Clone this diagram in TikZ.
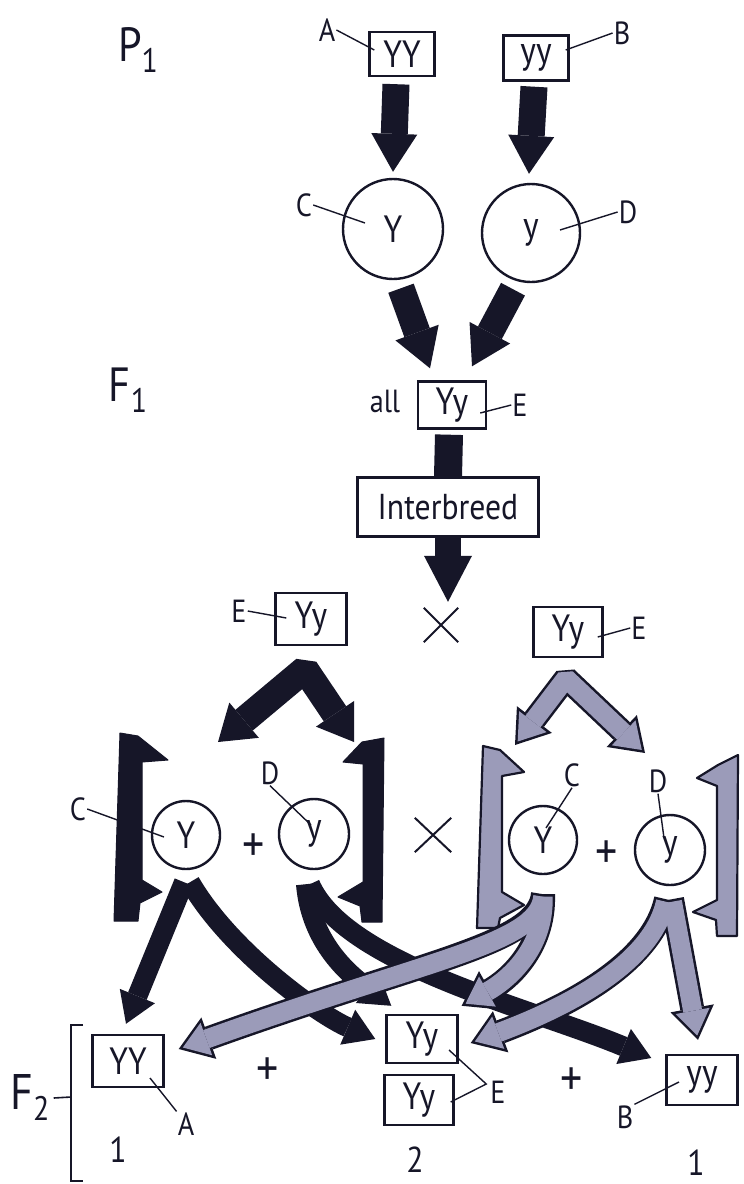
\documentclass[tikz,border=0pt]{standalone}
\usepackage{fontspec}
\setmainfont{PT Sans}[FakeStretch=0.88]
\usetikzlibrary{arrows.meta,calc}
\definecolor{ink}{RGB}{22,22,40}
\definecolor{lav}{RGB}{155,155,185}
\newcommand{\gl}[2]{#1\raisebox{-0.22em}{\fontsize{34}{34}\selectfont #2}}
\newcommand{\greypaths}[1]{%
  % from grey C
  \draw[#1] ($(c3C.south)+(0,19)$) .. controls +(-5,50) and +(250,-90) .. ($(bYY.east)+(14,-12)$);
  \draw[#1] ($(c3C.south)+(0,19)$) .. controls +(2,55) and +(45,-25) .. ($(bYy1.north east)+(3,-8)$);
  % from grey D
  \draw[#1] ($(c3D.south)+(-4,13)$) .. controls +(-15,70) and +(80,-30) .. ($(bYy1.east)+(12,4)$);
  \draw[#1] ($(c3D.south)+(2,13)$) -- ($(byy.north)+(-4,-14)$);
}
\begin{document}
\begin{tikzpicture}[x=1pt,y=-1pt,
  every node/.style={text=ink},
  box/.style={draw=ink, line width=2.4pt, inner sep=0pt, font=\fontsize{38}{40}\selectfont},
  circ/.style={draw=ink, circle, line width=2.4pt, inner sep=0pt, font=\fontsize{38}{40}\selectfont},
  lab/.style={inner sep=1pt, font=\fontsize{32}{34}\selectfont},
  gen/.style={inner sep=0pt, font=\fontsize{48}{50}\selectfont},
  plus/.style={inner sep=0pt, font=\fontsize{50}{52}\selectfont},
  num/.style={inner sep=0pt, font=\fontsize{36}{38}\selectfont},
  crossmark/.style={inner sep=0pt, minimum width=34pt, minimum height=34pt},
  leader/.style={draw=ink, line width=1.4pt},
  bk/.style={draw=ink, line width=27pt, -{Triangle[length=38pt,width=46pt,line width=0pt]}},
  bkb/.style={draw=ink, line width=20pt, -{Triangle[length=30pt,width=38pt,line width=0pt]}},
  bkstub/.style={draw=ink, line width=28pt},
  bkch/.style={draw=ink, line width=27pt, line join=bevel,
    {Triangle[length=34pt,width=46pt,line width=0pt]}-{Triangle[length=34pt,width=46pt,line width=0pt]}},
  gout/.style={draw=ink, line width=24pt, -{Triangle[length=32pt,width=44pt,line width=0pt]}},
  gin/.style={draw=lav, line width=19pt, shorten >=4.4pt, shorten <=2.5pt,
    -{Triangle[length=25pt,width=34.5pt,line width=0pt]}},
  gchout/.style={draw=ink, line width=24pt, line join=bevel,
    {Triangle[length=32pt,width=44pt,line width=0pt]}-{Triangle[length=32pt,width=44pt,line width=0pt]}},
  gchin/.style={draw=lav, line width=19pt, line join=bevel, shorten >=4.4pt, shorten <=4.4pt,
    {Triangle[length=25pt,width=34.5pt,line width=0pt]}-{Triangle[length=25pt,width=34.5pt,line width=0pt]}},
  bkbr/.style={fill=ink, draw=ink, line width=1pt, line join=round},
  gbr/.style={fill=lav, draw=ink, line width=2.2pt, line join=round},
]
\useasboundingbox[fill=white] (0,0) rectangle (744,1184);

% ---------- P1 ----------
\node[gen] (P1) at (138,50) {\gl{P}{1}};
\node[box, minimum width=65pt, minimum height=44pt] (pA) at (402,54) {YY};
\node[lab] (lA) at (327,30) {A};
\node[box, minimum width=65pt, minimum height=45pt] (pB) at (536,58) {yy};
\node[lab] (lB) at (622,33) {B};
\node[circ, minimum size=100pt] (cC) at (393,229) {Y};
\node[lab] (lC) at (304,205) {C};
\node[circ, minimum size=98pt] (cD) at (531,233) {y};
\node[lab] (lD) at (628,212) {D};

\draw[leader] (lA.east) -- ($(pA.west)+(6,-4)$);
\draw[leader] (lB.west) -- ($(pB.east)+(-4,-8)$);
\draw[leader] (lC.east) -- ($(cC.center)+(-28,-6)$);
\draw[leader] (lD.west) -- ($(cD.center)+(29,-3)$);

\draw[bk] ($(pA.south)+(-6,7)$) -- ($(cC.north)+(0,-6)$);
\draw[bk] ($(pB.south)+(-2,5)$) -- ($(cD.north)+(-2,-9)$);

% ---------- F1 ----------
\node[gen] (F1) at (128,390) {\gl{F}{1}};
\node[lab] (all) at (385,401) {all};
\node[box, minimum width=68pt, minimum height=47pt] (f1) at (452,405) {Yy};
\node[lab] (lE1) at (520,405) {E};
\draw[leader] (lE1.west) -- ($(f1.east)+(-7,8)$);

\draw[bk] ($(cC.south)+(8,8)$) -- ($(f1.north)+(-22,-12)$);
\draw[bk] ($(cD.south)+(-18,6)$) -- ($(f1.north)+(20,-14)$);

\node[box, minimum width=181pt, minimum height=59pt, font=\fontsize{36}{38}\selectfont] (inter) at (448,507) {Interbreed};
\draw[bkstub] ($(f1.south)+(-3,5)$) -- (inter.north);
\node[crossmark] (x1) at (441,625) {};
\draw[line width=2pt, draw=ink] (x1.north west) -- (x1.south east) (x1.north east) -- (x1.south west);
\draw[draw=ink, line width=26pt, -{Triangle[length=46pt,width=48pt,line width=0pt]}] (inter.south) -- ($(inter.south |- x1.north)+(0,-6)$);

% ---------- gametes ----------
\node[box, minimum width=71pt, minimum height=52pt] (gL) at (311,619) {Yy};
\node[lab] (lE2) at (239,611) {E};
\draw[leader] (lE2.east) -- ($(gL.west)+(12,-1)$);
\node[box, minimum width=69pt, minimum height=50pt] (gR) at (568,632) {Yy};
\node[lab] (lE3) at (639,628) {E};
\draw[leader] (lE3.west) -- ($(gR.east)+(-6,5)$);

\coordinate (chL1) at (218,742);
\coordinate (chL2) at (354,742);
\draw[bkch] (chL1) -- ($(gL.south)+(-6,23)$) -- (chL2);
\coordinate (chR1) at (515,745);
\coordinate (chR2) at (645,753);
\draw[gchout] (chR1) -- ($(gR.south)+(-2,20)$) -- (chR2);
\draw[gchin] (chR1) -- ($(gR.south)+(-2,20)$) -- (chR2);

% brackets
\draw[bkbr] (120,733) -- (138,736) -- (168,760) -- (142,762) -- (142,880) -- (162,892) -- (140,903) -- (138,921) -- (114,921) -- cycle;
\draw[bkbr] (384,738) -- (362,742) -- (343,762) -- (363,764) -- (363,882) -- (338,897) -- (360,906) -- (362,922) -- (382,922) -- cycle;
\draw[gbr] (483,746) -- (500,750) -- (524,772) -- (502,776) -- (502,892) -- (524,905) -- (500,918) -- (498,928) -- (477,928) -- cycle;
\draw[gbr] (738,755) -- (718,765) -- (697,778) -- (717,786) -- (717,900) -- (693,912) -- (716,920) -- (717,936) -- (737,936) -- cycle;

\node[circ, minimum size=68pt, fill=white] (c2C) at (186,835) {Y};
\node[lab] (lC2) at (78,809) {C};
\node[plus] (pl1) at (254,848) {+};
\node[circ, minimum size=70pt, fill=white] (c2D) at (314,834) {y};
\node[lab] (lD2) at (270,773) {D};
\node[crossmark, minimum width=36pt] (x2) at (433,835) {};
\draw[line width=2pt, draw=ink] (x2.north west) -- (x2.south east) (x2.north east) -- (x2.south west);
\node[circ, minimum size=68pt, fill=white] (c3C) at (543,840) {Y};
\node[lab] (lC3) at (572,775) {C};
\node[plus] (pl2) at (607,855) {+};
\node[circ, minimum size=70pt, fill=white] (c3D) at (670,850) {y};
\node[lab] (lD3) at (658,781) {D};

\draw[leader] (lC2.east) -- ($(c2C.center)+(-22,2)$);
\draw[leader] (lD2.south) -- ($(c2D.center)+(-3,-9)$);
\draw[leader] (lC3.south) -- ($(c3C.center)+(3,-12)$);
\draw[leader] (lD3.south) -- ($(c3D.center)+(-6,-12)$);

% ---------- F2 ----------
\node[gen, font=\fontsize{50}{52}\selectfont] (F2) at (30,1097) {\gl{F}{2}};
\coordinate (brT) at (71,1025);
\coordinate (brB) at (71,1181);
\draw[draw=ink, line width=1.6pt] ($(brT)+(12,0)$) -- (brT) -- (brB) -- ($(brB)+(12,0)$);
\draw[draw=ink, line width=1.6pt] ($(F2.east)+(4,1)$) -- (F2.east -| brT);

\node[box, minimum width=71pt, minimum height=52pt] (bYY) at (128,1061) {YY};
\node[lab] (lA2) at (186,1124) {A};
\draw[leader] (lA2.north west) -- ($(bYY.center)+(22,17)$);
\node[plus] (pl3) at (268,1072) {+};
\node[box, minimum width=71pt, minimum height=48pt] (bYy1) at (422,1039) {Yy};
\node[box, minimum width=69pt, minimum height=50pt] (bYy2) at (419,1100) {Yy};
\node[lab] (lE4) at (498,1092) {E};
\coordinate (ej) at ($(lE4.west)+(-3,-8)$);
\draw[leader] ($(bYy1.center)+(27,11)$) -- (ej) -- ($(bYy2.east)+(-4,2)$);
\node[plus] (pl4) at (572,1082) {+};
\node[box, minimum width=71pt, minimum height=50pt] (byy) at (702,1080) {yy};
\node[lab] (lB2) at (625,1117) {B};
\draw[leader] (lB2.north east) -- ($(byy.center)+(-23,2)$);
\node[num] (n1) at (118,1150) {1};
\node[num] (n2) at (415,1160) {2};
\node[num] (n3) at (696,1163) {1};

% ---------- black F2 arrows ----------
\draw[bkb] ($(c2C.south)+(-2,12)$) -- ($(bYY.north)+(-2,-10)$);
\draw[bkb] ($(c2C.south)+(4,12)$) .. controls +(40,69) and +(-56,-24) .. ($(bYy1.west)+(-10,0)$);
\draw[bkb] ($(c2D.south)+(-8,14)$) .. controls +(5,60) and +(-40,-30) .. ($(bYy1.north west)+(6,-8)$);
\draw[bkb] ($(c2D.south)+(-4,14)$) .. controls +(35,80) and +(-120,-50) .. ($(byy.west)+(-14,-22)$);

% ---------- grey F2 arrows ----------
\greypaths{gout}
\greypaths{gin}
\end{tikzpicture}
\end{document}
